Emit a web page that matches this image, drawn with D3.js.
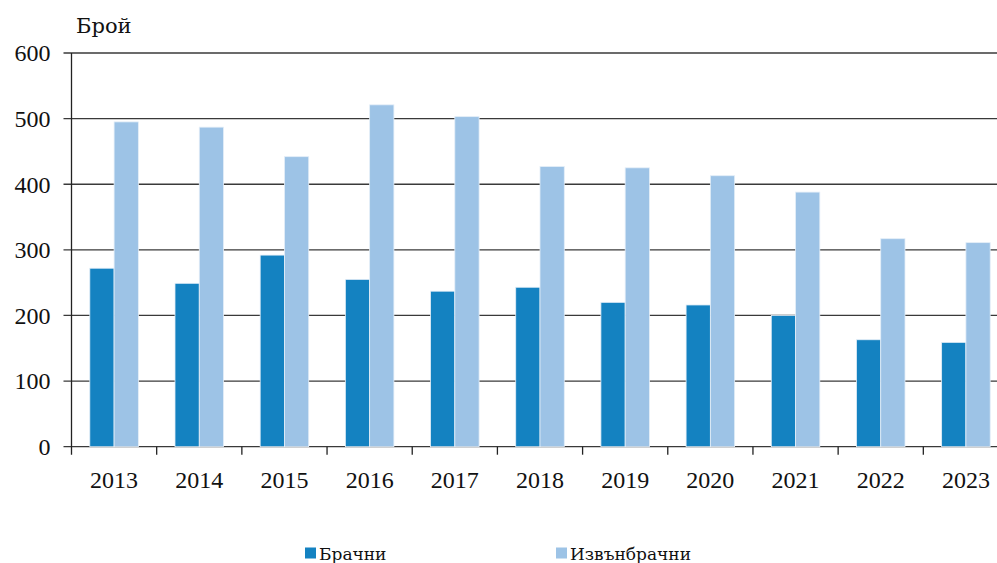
<!DOCTYPE html>
<html>
<head>
<meta charset="utf-8">
<script src="https://cdn.jsdelivr.net/npm/d3@7"></script>
<style>
  body { margin: 0; background: #fff; }
  svg { display: block; font-family: "Liberation Serif", serif; }
  .cyr { font-family: "DejaVu Serif", serif; }
</style>
</head>
<body>
<svg id="chart" width="997" height="563"></svg>
<script>
// data
var years = ["2013","2014","2015","2016","2017","2018","2019","2020","2021","2022","2023"];
var marital = [272, 249, 292, 255, 237, 243, 220, 216, 200, 163, 159];       // Брачни
var nonMarital = [495, 487, 442, 521, 503, 427, 425, 413, 388, 317, 311];    // Извънбрачни
var seriesNames = ["Брачни", "Извънбрачни"];
var seriesColors = ["#1482c1", "#9dc3e6"];
var yTicks = [0, 100, 200, 300, 400, 500, 600];

var svg = d3.select("#chart"),
    margin = {top: 53, left: 71.5},
    width = 937,
    height = 393.7,
    g = svg.append("g").attr("transform", "translate(" + margin.left + "," + margin.top + ")");

var x = d3.scaleBand().domain(years).range([0, width]);
var y = d3.scaleLinear().domain([0, 600]).range([height, 0]);
var barW = x.bandwidth() * 0.285;

// gridlines (behind the bars)
g.append("g")
  .selectAll("line")
  .data(yTicks)
  .enter().append("line")
    .attr("x1", -8)
    .attr("x2", width)
    .attr("y1", function(d) { return y(d); })
    .attr("y2", function(d) { return y(d); })
    .attr("stroke", "#3a3a3a")
    .attr("stroke-width", 1.3);

var data = years.map(function(yr, i) { return {year: yr, vals: [marital[i], nonMarital[i]]}; });

var groups = g.append("g")
  .selectAll("g")
  .data(data)
  .enter().append("g")
    .attr("transform", function(d) { return "translate(" + (x(d.year) + x.bandwidth() / 2 - barW) + ",0)"; });

groups.selectAll("rect")
  .data(function(d) { return d.vals; })
  .enter().append("rect")
    .attr("x", function(d, i) { return i * barW; })
    .attr("y", function(d) { return y(d); })
    .attr("width", barW)
    .attr("height", function(d) { return height - y(d); })
    .attr("fill", function(d, i) { return seriesColors[i]; })
    .attr("stroke", "#e4eef8")
    .attr("stroke-width", 0.8);

// y axis
g.append("line")
  .attr("x1", 0).attr("x2", 0)
  .attr("y1", 0).attr("y2", height + 8)
  .attr("stroke", "#222").attr("stroke-width", 1.3);

g.append("g")
  .selectAll("text")
  .data(yTicks)
  .enter().append("text")
    .attr("x", -21)
    .attr("y", function(d) { return y(d); })
    .attr("dy", "0.35em")
    .attr("text-anchor", "end")
    .attr("font-size", 24)
    .attr("fill", "#111")
    .text(function(d) { return d; });

// x axis ticks between categories
g.append("g")
  .selectAll("line")
  .data(years.slice(1))
  .enter().append("line")
    .attr("x1", function(d) { return x(d); })
    .attr("x2", function(d) { return x(d); })
    .attr("y1", height)
    .attr("y2", height + 8)
    .attr("stroke", "#222").attr("stroke-width", 1.3);

g.append("g")
  .selectAll("text")
  .data(years)
  .enter().append("text")
    .attr("x", function(d) { return x(d) + x.bandwidth() / 2; })
    .attr("y", height + 41)
    .attr("text-anchor", "middle")
    .attr("font-size", 24)
    .attr("fill", "#111")
    .text(function(d) { return d; });

// axis title
svg.append("text")
  .attr("class", "cyr")
  .attr("x", 76)
  .attr("y", 33)
  .attr("font-size", 21)
  .attr("fill", "#111")
  .text("Брой");

// legend
var legendX = [305, 556];
var legend = svg.append("g")
  .selectAll("g")
  .data(seriesNames)
  .enter().append("g")
    .attr("transform", function(d, i) { return "translate(" + legendX[i] + ",547.5)"; });

legend.append("rect")
  .attr("width", 11)
  .attr("height", 11)
  .attr("fill", function(d, i) { return seriesColors[i]; });

legend.append("text")
  .attr("class", "cyr")
  .attr("x", 14)
  .attr("y", 12)
  .attr("font-size", 17)
  .attr("fill", "#111")
  .text(function(d) { return d; });
</script>
</body>
</html>
